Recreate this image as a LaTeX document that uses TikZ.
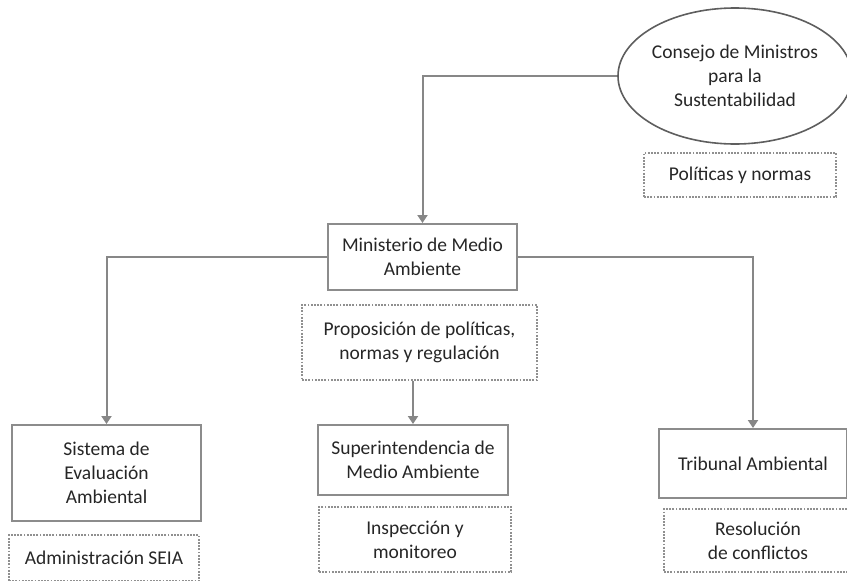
\documentclass[tikz,border=0pt]{standalone}
\usepackage{fontspec}
\setmainfont{Carlito}
\usepackage{xcolor}
\definecolor{LinkGray}{HTML}{878787}
\definecolor{BoxGray}{HTML}{8c8c8c}
\definecolor{RimGray}{HTML}{5e5e5e}
\definecolor{DotGray}{HTML}{909090}
\definecolor{InkGray}{HTML}{262626}
\usetikzlibrary{arrows.meta, positioning, shapes.geometric}

\begin{document}
\begin{tikzpicture}[x=1pt, y=-1pt,
  org/.style={rectangle, draw=BoxGray, line width=2pt, fill=white, text=InkGray,
    font=\fontsize{19.5}{24}\selectfont, align=center, inner sep=0pt},
  fun/.style={rectangle, draw=DotGray, line width=2pt, dash pattern=on 1.8pt off 1.4pt,
    text=InkGray, font=\fontsize{19.5}{24}\selectfont, align=center, inner sep=0pt},
  cons/.style={ellipse, draw=RimGray, line width=1.6pt, fill=white, text=InkGray,
    font=\fontsize{19.5}{24}\selectfont, align=center, inner sep=-6pt},
  link/.style={draw=LinkGray, line width=2pt, -{Triangle[length=8pt, width=10pt]}},
]
\useasboundingbox (0,0) rectangle (847,581);
\clip (0,0) rectangle (847,581);

%% -- Organismos --------------------------------------------
\node[cons, minimum width=234pt, minimum height=136pt] at (735,76) (CMS)
  {Consejo de Ministros\\para la\\Sustentabilidad};
\node[org, minimum width=189pt, minimum height=66pt] at (422.5,257) (MMA)
  {Ministerio de Medio\\Ambiente};
\node[org, minimum width=189pt, minimum height=96pt] at (106.5,473) (SEA)
  {Sistema de\\Evaluación\\Ambiental};
\node[org, minimum width=190pt, minimum height=70pt] at (413,460) (SMA)
  {Superintendencia de\\Medio Ambiente};
\node[org, minimum width=188pt, minimum height=69pt] at (753,463.5) (TA)
  {Tribunal Ambiental};

%% -- Funciones ---------------------------------------------
\node[fun, minimum width=192pt, minimum height=44pt, below=7pt of CMS, xshift=5pt] (fcms)
  {Políticas y normas};
\node[fun, minimum width=235pt, minimum height=75pt, below=13pt of MMA, xshift=-3pt] (fmma)
  {Proposición de políticas,\\normas y regulación};
\node[fun, minimum width=190pt, minimum height=46pt, below=12pt of SEA, xshift=-2.5pt] (fsea)
  {Administración SEIA};
\node[fun, minimum width=192pt, minimum height=65pt, below=10pt of SMA, xshift=2pt] (fsma)
  {Inspección y\\monitoreo};
\node[fun, minimum width=188pt, minimum height=63pt, below=9pt of TA, xshift=5pt] (fta)
  {Resolución\\de conflictos};

%% Relaciones
\draw[link] (CMS.west) -| (MMA.north);
\draw[link] (MMA.west) -| (SEA.north);
\draw[link] (MMA.east) -| (TA.north);
\draw[link] (fmma.south -| SMA.north) -- (SMA.north);

\end{tikzpicture}
\end{document}
